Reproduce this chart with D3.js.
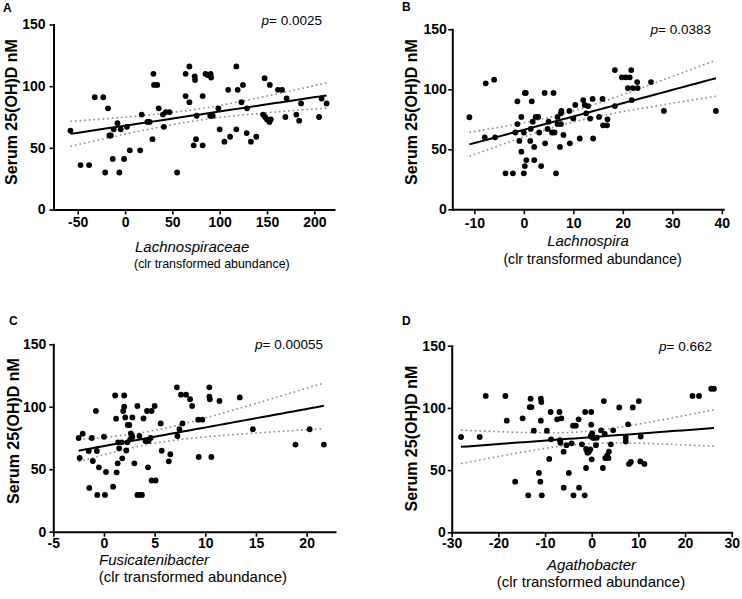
<!DOCTYPE html>
<html>
<head>
<meta charset="utf-8">
<script src="https://cdn.jsdelivr.net/npm/d3@7"></script>
<style>
  body { margin: 0; background: #fff; }
  text { font-family: Arial, "Liberation Sans", sans-serif; }
</style>
</head>
<body>
<div id="chart"></div>
<script>
// y axis is shared by all four panels
var yTicks = [0, 50, 100, 150];

// A - Lachnospiraceae
var aTicks = [-50, 0, 50, 100, 150, 200];
var aX = [-57.7,-47,-38,-32,-23,-21,-18,-16.5,-15,-13,-12,-8,-6,-4.6,-1,2,5,16,17.6,23.6,26,29,30,30.6,34,35.6,40,41,43,47,55,64,64,68,68,73.6,74,72.5,75,75.7,82,82,85,87,90.5,91,90,92.6,98.6,100,105,109,111,117.6,119,117.6,123,124.6,129,128.5,133,138.7,147.5,145.8,148,150,152.5,154,153,161.6,166,170.8,169.4,181,184,186,205,207.7,213];
var aY = [64,36,36,91,91,30,82,60,60,41,65,70,30,65,41,67,48,48,77,71,71,57,110,101,101,82,77,67,79,79,30,110,92,116,87,108,105,52,57,76,52,92,110,109,110,107,76,76,82,65,55,97,59,116,97,65,87,101,82,62,55,59,106.5,77,75,73,71,73,101,97,97,90,75,77,72,86,75,90,86];

// B - Lachnospira
var bTicks = [-10, 0, 10, 20, 30, 40];
var bX = [-11,-7.7,-6,-7.9,-5.8,-3.7,-2.2,-1.7,-1.3,-1.3,-0.9,-0.5,-0.5,0,0.2,0.4,0.2,0.5,0,1.4,1.3,1.6,1.8,2.1,2.1,2.4,2.9,3.1,3.5,4.2,4.3,4.8,5,5.7,6,6.2,6.5,6.8,6.8,7.3,7.5,7.5,7.6,8,9.2,9.3,10,10.4,11.3,12,12.3,12.6,13,13.4,13.9,14,15.2,15.9,16,16.8,16.9,18.4,18.4,19.8,20.6,21.4,21,22,23,21.7,21.8,22.9,25.7,28.3,38.8];
var bY = [76.7,105,108,60,60,30,30,64,71,90,57,77,48,64,97,97,36,41,30,67,57,90,73,52,41,77,77,64,36,97,55,67,73,64,97,64,30,77,71,52,80,71,82,62,82,55,75.6,87,59,91,87,80,86,75.6,92,59,77,92,70,70,75,86,116,110,110,110,101,101,101,116,91,106,106,82,82];

// C - Fusicatenibacter
var cTicks = [-5, 0, 5, 10, 15, 20];
var cX = [-2.5,-2.1,-2.4,-1.45,-1.5,-1.2,-1.1,-0.8,-0.7,-0.66,-0.5,0,0.1,0.2,0.9,1.1,1.2,1.25,1.35,1.4,1.5,1.75,1.8,1.9,2.0,2.0,2.1,2.2,2.3,2.35,2.5,2.6,2.65,2.8,2.8,3.0,3.3,3.3,3.55,3.75,3.5,3.9,4.1,4.25,4.4,4.35,4.6,4.7,4.7,5.1,5.0,5.6,5.7,6.4,6.55,7.2,7.25,7.45,7.6,7.75,8.1,8.5,8.7,9.35,9.3,9.7,10.4,10.4,10.45,10.6,11.4,13.4,14.7,18.9,20.3,21.7];
var cY = [75,78.5,59,35,64.6,75,56.6,96.6,64.6,29.4,51.5,76,29.4,47.8,36,109,90.5,47.5,54.7,71.5,66.7,71.5,58.7,96.6,109,100,91.5,65,71.5,85.4,85.4,74,78.7,91.5,76,54.7,100.6,29.4,29.4,29.4,76.6,90.7,72.6,96.6,72.6,51.5,75,96.6,41,41,100.6,86.7,64.8,56.3,62,115.6,76.6,82,109.7,86.7,109.7,106,100.6,59.8,89.7,89.7,115.6,108,106,59.8,104.6,107.5,82,69.7,82,69.7];

// D - Agathobacter
var dTicks = [-30, -20, -10, 0, 10, 20, 30];
var dX = [-28,-24,-22.7,-18.5,-18.2,-16.4,-14.8,-13.6,-13.3,-12.9,-13.1,-12.4,-10.9,-10.8,-10.9,-11.3,-11,-10.7,-9.6,-9.1,-8.8,-8.7,-7.4,-6.9,-6.5,-6.8,-6.7,-6,-6,-5.4,-4.9,-4.3,-4,-3.4,-3.9,-2.7,-2.8,-2.1,-1.5,-1.4,-1.2,-0.9,-0.6,-0.9,-1.2,-0.1,-0.1,-0.2,0.1,0.2,0.6,0,-0.3,0.9,1.1,2.0,2.6,2.4,2.8,2.9,3.3,3.6,3.7,4.1,4.6,5.9,7.3,7.3,7.8,8,8.4,8.8,10.1,10.5,10.4,11.3,21.6,23,25.6,26.2];
var dY = [76.6,76.6,109.6,109.6,89.7,40.7,91.6,29.7,100.7,100.7,107.4,81.7,107.4,104.7,89.7,47.7,40.7,29.7,81.7,59,96.7,74.7,90.8,96.7,91.6,74,72,64.8,35.9,70,47.7,71.5,85.7,85.7,29.7,35.9,90.8,70.7,29.7,96.7,67,65,64.8,64,51.7,96.7,86.5,77.4,79.6,76,76,58.7,66.7,70,76,82,105.5,51.7,79,59.7,61.9,59.7,64.8,70.7,82,100.4,76,72.9,86.8,55,56.5,100.4,105.5,77,57,55,109.6,109.6,115.4,115.4];

var genera = ["Lachnospiraceae", "Lachnospira", "Fusicatenibacter", "Agathobacter"];
var pValues = ["0.0025", "0.0383", "0.00055", "0.662"];
var letters = ["A", "B", "C", "D"];

var svg = d3.select("#chart")
  .append("svg")
    .attr("width", 742)
    .attr("height", 599);

// layout of each panel (pixel positions)
var panels = [
  {xs: aX, ys: aY, ticks: aTicks, domain: [-75.6, 220.8],
   left: 53.5, right: 334, top: 24.5, bottom: 209.5, yoff: 8, xlab: 227.5,
   letter: [3, 12], ytitle: [17, 112], pv: [322, 25],
   t1: [135, 252, 15], t2: [134, 268, 12.4], anchor: "start"},
  {xs: bX, ys: bY, ticks: bTicks, domain: [-14.45, 40.3],
   left: 452.3, right: 723.3, top: 29.3, bottom: 209.3, yoff: 5.5, xlab: 228,
   letter: [402, 11], ytitle: [416.5, 112], pv: [711, 34],
   t1: [588, 245.5, 15], t2: [592.5, 263.5, 14.2], anchor: "middle"},
  {xs: cX, ys: cY, ticks: cTicks, domain: [-5, 22.8],
   left: 53.3, right: 335, top: 344.3, bottom: 531.7, yoff: 7, xlab: 548,
   letter: [9, 325], ytitle: [19, 431], pv: [323, 349],
   t1: [99, 565, 15], t2: [98.7, 581.5, 15], anchor: "start"},
  {xs: dX, ys: dY, ticks: dTicks, domain: [-30, 30],
   left: 451.7, right: 731.7, top: 345.7, bottom: 532.3, yoff: 6, xlab: 548,
   letter: [402, 325], ytitle: [416.5, 438.5], pv: [712, 351],
   t1: [591.5, 570, 15], t2: [591, 586.5, 15], anchor: "middle"}
];

panels.forEach(function(cfg, k) {
  var x = d3.scaleLinear().domain(cfg.domain).range([cfg.left, cfg.right]);
  var y = d3.scaleLinear().domain([0, 150]).range([cfg.bottom, cfg.top]);
  var g = svg.append("g");

  // linear regression + 95% confidence band
  var n = cfg.xs.length,
      mx = d3.mean(cfg.xs),
      my = d3.mean(cfg.ys);
  var sxx = d3.sum(cfg.xs, function(d) { return (d - mx) * (d - mx); });
  var sxy = d3.sum(cfg.xs, function(d, i) { return (d - mx) * (cfg.ys[i] - my); });
  var slope = sxy / sxx, icpt = my - slope * mx;
  var sse = d3.sum(cfg.xs, function(d, i) {
    var r = cfg.ys[i] - (icpt + slope * d); return r * r;
  });
  var s = Math.sqrt(sse / (n - 2));
  var tq = 1.96 + 2.4 / (n - 2);
  var ext = d3.extent(cfg.xs);
  var fit = d3.range(41).map(function(i) {
    var v = ext[0] + (ext[1] - ext[0]) * i / 40;
    var f = icpt + slope * v;
    var h = tq * s * Math.sqrt(1 / n + (v - mx) * (v - mx) / sxx);
    return {x: v, f: f, lo: f - h, hi: f + h};
  });

  ["lo", "hi"].forEach(function(key) {
    g.append("path")
      .datum(fit)
      .attr("fill", "none")
      .attr("stroke", "#8a8a8a")
      .attr("stroke-width", 1.6)
      .attr("stroke-dasharray", "1.6,3")
      .attr("d", d3.line().x(function(d) { return x(d.x); }).y(function(d) { return y(d[key]); }));
  });

  g.append("g")
    .selectAll("circle")
    .data(cfg.xs)
    .enter()
    .append("circle")
      .attr("cx", function(d) { return x(d); })
      .attr("cy", function(d, i) { return y(cfg.ys[i]); })
      .attr("r", 2.9)
      .attr("fill", "#000");

  g.append("path")
    .datum(fit)
    .attr("fill", "none")
    .attr("stroke", "#000")
    .attr("stroke-width", 2)
    .attr("d", d3.line().x(function(d) { return x(d.x); }).y(function(d) { return y(d.f); }));

  // axes
  var xa = g.append("g")
    .attr("transform", "translate(0," + cfg.bottom + ")")
    .call(d3.axisBottom(x).tickValues(cfg.ticks).tickSize(5).tickSizeOuter(0)
      .tickFormat(function(d) { return String(d); }));
  xa.selectAll("text").attr("y", cfg.xlab - cfg.bottom - 10).attr("dy", "0.71em");

  var ya = g.append("g")
    .attr("transform", "translate(" + cfg.left + ",0)")
    .call(d3.axisLeft(y).tickValues(yTicks).tickSize(4).tickSizeOuter(0).tickPadding(cfg.yoff - 4));

  [xa, ya].forEach(function(a) {
    a.select(".domain").attr("stroke-width", 2).attr("stroke-linecap", "square");
    a.selectAll(".tick line").attr("stroke-width", 1.6);
    a.selectAll("text")
      .style("font-family", "Arial, 'Liberation Sans', sans-serif")
      .style("font-size", "14px")
      .style("font-weight", "bold")
      .attr("fill", "#000");
  });

  // labels
  g.append("text")
    .text(letters[k])
    .attr("x", cfg.letter[0])
    .attr("y", cfg.letter[1])
    .style("font-size", "12px")
    .style("font-weight", "bold");

  g.append("text")
    .text("Serum 25(OH)D nM")
    .attr("text-anchor", "middle")
    .attr("transform", "translate(" + cfg.ytitle[0] + "," + cfg.ytitle[1] + ") rotate(-90)")
    .style("font-size", "16px")
    .style("font-weight", "bold");

  var pt = g.append("text")
    .attr("x", cfg.pv[0])
    .attr("y", cfg.pv[1])
    .attr("text-anchor", "end")
    .style("font-size", "13.5px");
  pt.append("tspan").text("p").style("font-style", "italic");
  pt.append("tspan").text("= " + pValues[k]);

  g.append("text")
    .text(genera[k])
    .attr("x", cfg.t1[0])
    .attr("y", cfg.t1[1])
    .attr("text-anchor", cfg.anchor)
    .style("font-size", cfg.t1[2] + "px")
    .style("font-style", "italic");

  g.append("text")
    .text("(clr transformed abundance)")
    .attr("x", cfg.t2[0])
    .attr("y", cfg.t2[1])
    .attr("text-anchor", cfg.anchor)
    .style("font-size", cfg.t2[2] + "px");
});
</script>
</body>
</html>
